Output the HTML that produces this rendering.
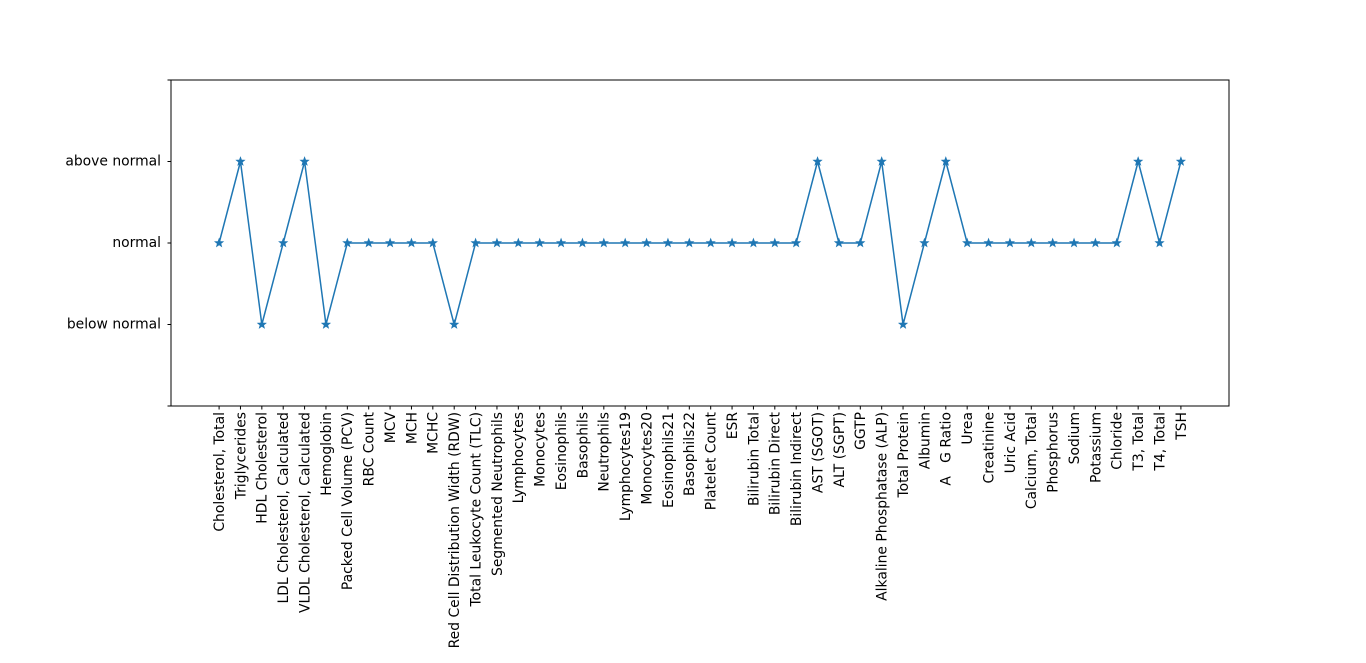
<!DOCTYPE html>
<html><head><meta charset="utf-8">
<style>
html,body{margin:0;padding:0;background:#fff;}
svg{display:block;font-family:"DejaVu Sans","Liberation Sans",sans-serif;}
</style></head>
<body>
<svg id="chart" width="1366" height="663" viewBox="0 0 1366 663">
<rect x="171" y="80" width="1058" height="326" fill="none" stroke="#000" stroke-width="1"/>
<g id="yaxis"></g>
<g id="xaxis"></g>
<g id="series"></g>
</svg>
<script>
const categories = ["Cholesterol, Total","Triglycerides","HDL Cholesterol","LDL Cholesterol, Calculated","VLDL Cholesterol, Calculated","Hemoglobin","Packed Cell Volume (PCV)","RBC Count","MCV","MCH","MCHC","Red Cell Distribution Width (RDW)","Total Leukocyte Count (TLC)","Segmented Neutrophils","Lymphocytes","Monocytes","Eosinophils","Basophils","Neutrophils","Lymphocytes19","Monocytes20","Eosinophils21","Basophils22","Platelet Count","ESR","Bilirubin Total","Bilirubin Direct","Bilirubin Indirect","AST (SGOT)","ALT (SGPT)","GGTP","Alkaline Phosphatase (ALP)","Total Protein","Albumin","A   G Ratio","Urea","Creatinine","Uric Acid","Calcium, Total","Phosphorus","Sodium","Potassium","Chloride","T3, Total","T4, Total","TSH"];
const statusValues = [2,3,1,2,3,1,2,2,2,2,2,1,2,2,2,2,2,2,2,2,2,2,2,2,2,2,2,2,3,2,2,3,1,2,3,2,2,2,2,2,2,2,2,3,2,3];
const yTickValues = [0,1,2,3,4];
const yTickLabels = ["","below normal","normal","above normal",""];

const NS="http://www.w3.org/2000/svg";
const L=171,R=1229,T=80,B=406;
const n=categories.length;
const span=(n-1)*1.1;
function xs(i){return L+(i+(n-1)*0.05)*(R-L)/span;}
function ys(v){return B-(v-0)*(B-T)/4;}
function mk(tag,attrs,parent){const e=document.createElementNS(NS,tag);for(const k in attrs)e.setAttribute(k,attrs[k]);parent.appendChild(e);return e;}

const yg=document.getElementById('yaxis');
yTickValues.forEach((v,i)=>{
  const y=ys(v);
  const t=mk('line',{x1:L-3.5,x2:L,y1:y,y2:y,stroke:'#000','stroke-width':1},yg);
  
  
  const tx=mk('text',{x:L-10,y:y,'text-anchor':'end','dominant-baseline':'central','font-size':'13.9px',fill:'#000'},yg);
  tx.textContent=yTickLabels[i];
  
  
});

const xg=document.getElementById('xaxis');
categories.forEach((c,i)=>{
  const x=xs(i);
  const t=mk('line',{x1:x,x2:x,y1:B,y2:B+3.5,stroke:'#000','stroke-width':1},xg);
  
  
  const tx=mk('text',{x:0,y:0,transform:`translate(${x},${B+6}) rotate(-90)`,'text-anchor':'end',dy:'0.35em','font-size':'13.9px',fill:'#000','xml:space':'preserve'},xg);
  tx.style.whiteSpace='pre';
  tx.textContent=c;
  
  
});

const sg=document.getElementById('series');
const pts=statusValues.map((v,i)=>xs(i).toFixed(2)+','+ys(v).toFixed(2)).join(' ');
const line=mk('polyline',{points:pts,fill:'none',stroke:'#1f77b4','stroke-width':1.5,'stroke-linejoin':'miter'},sg);


function star(cx,cy,r){let p=[];for(let k=0;k<10;k++){const a=-Math.PI/2+k*Math.PI/5;const rr=k%2?r*0.42:r;p.push((cx+rr*Math.cos(a)).toFixed(2)+','+(cy+rr*Math.sin(a)).toFixed(2));}return p.join(' ');}
statusValues.forEach((v,i)=>{
  const s=mk('polygon',{points:star(xs(i),ys(v),4.5),fill:'#1f77b4',stroke:'#1f77b4','stroke-width':0.6},sg);
  
  
});
</script>
</body></html>
